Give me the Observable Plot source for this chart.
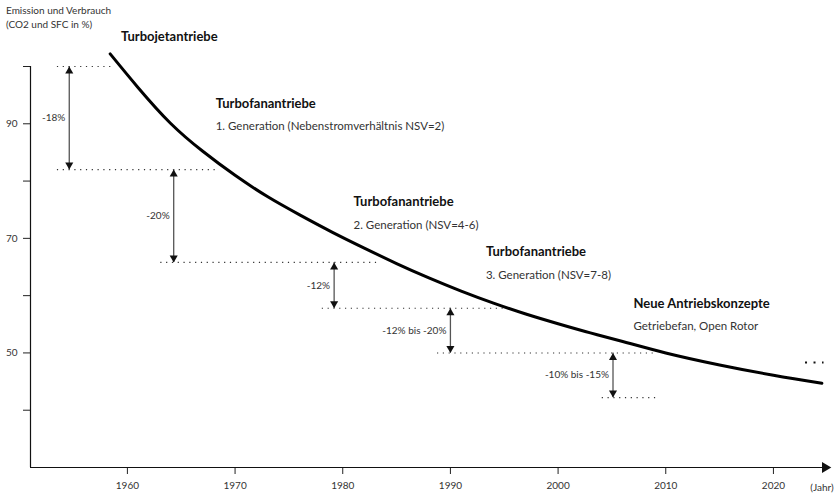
<!DOCTYPE html>
<html><head><meta charset="utf-8">
<script src="https://cdn.jsdelivr.net/npm/d3@7"></script>
<script src="https://cdn.jsdelivr.net/npm/@observablehq/plot@0.6"></script>
<style>
body{margin:0;background:#fff;}
#wrap{position:relative;width:839px;height:494px;}
#ytitle{position:absolute;left:6px;top:3px;font:10px Lato, sans-serif;line-height:14px;color:#333;}
</style></head><body>
<div id="wrap"><div id="ytitle">Emission und Verbrauch<br>(CO2 und SFC in %)</div></div>
<script>
// curve
const curveYears  = [1958.4, 1961, 1964, 1967, 1970, 1973, 1976, 1979, 1982, 1985, 1988, 1991, 1994, 1997, 2000, 2003, 2006, 2010, 2015, 2020, 2024.5];
const curveValues = [102.2, 96.3, 90.1, 85.2, 81.0, 77.3, 74.1, 71.1, 68.3, 65.6, 63.1, 60.8, 58.7, 56.8, 55.1, 53.5, 52.0, 50.0, 47.9, 46.1, 44.7];

// dotted reference levels
const segLevels = [100, 82, 65.8, 57.8, 50, 42.2];
const segStart  = [1953.5, 1953.5, 1963.1, 1978.1, 1988.8, 2004.1];
const segEnd    = [1958.6, 1968.5, 1983.3, 1994.9, 2009.2, 2009.2];

// reduction arrows
const arrowYears  = [1954.6, 1964.3, 1979.2, 1990.0, 2005.1];
const arrowFrom   = [100, 82, 65.8, 57.8, 50];
const arrowTo     = [82, 65.8, 57.8, 50, 42.2];
const arrowLabels = ["-18%", "-20%", "-12%", "-12% bis -20%", "-10% bis -15%"];

// annotations
const titleTexts  = ["Turbojetantriebe", "Turbofanantriebe", "Turbofanantriebe", "Turbofanantriebe", "Neue Antriebskonzepte"];
const titleYears  = [1959.4, 1968.2, 1981.0, 1993.3, 2007.0];
const titleValues = [105.1, 93.5, 76.3, 67.6, 58.6];
const subTexts  = ["1. Generation (Nebenstromverhältnis NSV=2)", "2. Generation (NSV=4-6)", "3. Generation (NSV=7-8)", "Getriebefan, Open Rotor"];
const subYears  = [1968.2, 1981.0, 1993.3, 2007.0];
const subValues = [89.6, 72.2, 63.5, 54.6];

// axes
const xTicks = [1960, 1970, 1980, 1990, 2000, 2010, 2020];
const yTicks = [40, 50, 60, 70, 80, 90, 100];
const yLabeled = [50, 70, 90];
const xDomain = [1951, 2025.3];
const yDomain = [30, 100];

const curve = curveYears.map((x, i) => ({x, y: curveValues[i]}));
const segs = segLevels.map((y, i) => ({y, x1: segStart[i], x2: segEnd[i]}));
const arrows = arrowYears.map((x, i) => ({x, y1: arrowFrom[i], y2: arrowTo[i], label: arrowLabels[i], mid: (arrowFrom[i] + arrowTo[i]) / 2}));
const titles = titleTexts.map((t, i) => ({t, x: titleYears[i], y: titleValues[i]}));
const subs = subTexts.map((t, i) => ({t, x: subYears[i], y: subValues[i]}));

const chart = Plot.plot({
  width: 839,
  height: 494,
  marginLeft: 30,
  marginRight: 9,
  marginTop: 66,
  marginBottom: 27,
  style: {fontFamily: "Lato, sans-serif", fontSize: "10px", background: "#fff", color: "#222"},
  x: {domain: xDomain},
  y: {domain: yDomain},
  marks: [
    Plot.axisY({ticks: yTicks, tickSize: 7, tickPadding: 6, tickFormat: d => yLabeled.includes(d) ? String(d) : "", label: null, fill: "#333"}),
    Plot.axisX({ticks: xTicks, tickSize: 7, tickPadding: 7, tickFormat: d => String(d), label: null, fill: "#333"}),
    Plot.ruleX([xDomain[0]], {y1: yDomain[0], y2: yDomain[1], stroke: "#111", strokeWidth: 1.2}),
    Plot.ruleY([yDomain[0]], {x1: xDomain[0], x2: 2024.8, stroke: "#111", strokeWidth: 1.2}),
    Plot.dot([{x: xDomain[1], y: yDomain[0]}], {x: "x", y: "y", symbol: "triangle", r: 4, rotate: 90, dx: -5.4, fill: "#111", stroke: "none"}),
    Plot.text(["(Jahr)"], {x: 2024.5, y: yDomain[0], dy: 20, fontSize: 10, fill: "#333"}),
    // dotted levels
    Plot.ruleY(segs, {y: "y", x1: "x1", x2: "x2", stroke: "#333", strokeWidth: 1.1, strokeDasharray: "1.2,4.6"}),
    // arrows
    Plot.ruleX(arrows, {x: "x", y1: "y1", y2: "y2", stroke: "#555", strokeWidth: 1.3}),
    Plot.dot(arrows, {x: "x", y: "y1", symbol: "triangle", r: 3, dy: 4.67, fill: "#111", stroke: "none"}),
    Plot.dot(arrows, {x: "x", y: "y2", symbol: "triangle", r: 3, rotate: 180, dy: -4.67, fill: "#111", stroke: "none"}),
    Plot.text(arrows, {x: "x", y: "mid", text: "label", textAnchor: "end", dx: -4, fontSize: 10, fill: "#333"}),
    // curve
    Plot.line(curve, {x: "x", y: "y", curve: "natural", stroke: "#000", strokeWidth: 3}),
    // ellipsis
    Plot.ruleY([48.33], {x1: 2022.98, x2: 2024.7, stroke: "#111", strokeWidth: 2, strokeDasharray: "2,6.5"}),
    // annotations
    Plot.text(titles, {x: "x", y: "y", text: "t", textAnchor: "start", fontSize: 13, fontWeight: "bold", fill: "#111"}),
    Plot.text(subs, {x: "x", y: "y", text: "t", textAnchor: "start", fontSize: 11.5, fill: "#333"})
  ]
});
document.getElementById("wrap").appendChild(chart);
chart.style.position = "absolute";
chart.style.left = "0";
chart.style.top = "0";
document.getElementById("ytitle").style.zIndex = "2";
</script>
</body></html>
